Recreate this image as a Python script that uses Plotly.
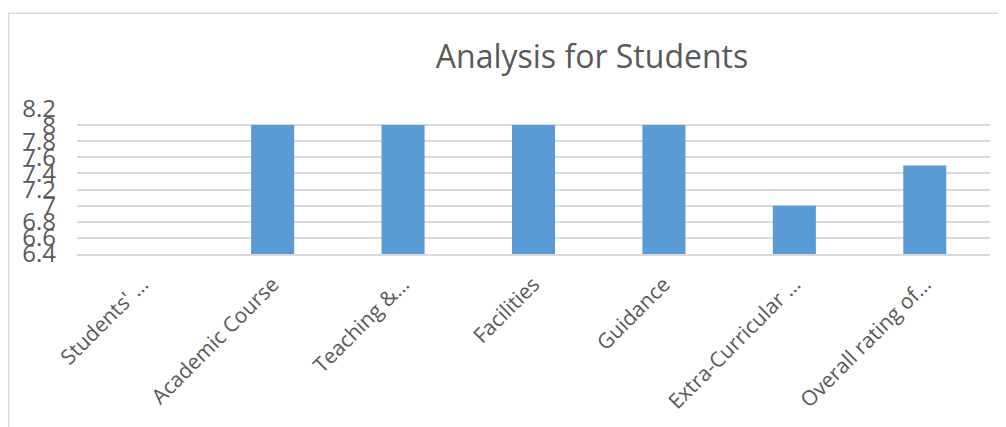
import plotly.graph_objects as go

categories = ["Students' …", "Academic Course", "Teaching &…", "Facilities",
              "Guidance", "Extra-Curricular …", "Overall rating of…"]
values = [6.4, 8, 8, 8, 8, 7, 7.5]
y_ticks = [6.4, 6.6, 6.8, 7, 7.2, 7.4, 7.6, 7.8, 8, 8.2]
y_tick_labels = ["6.4", "6.6", "6.8", "7", "7.2", "7.4", "7.6", "7.8", "8", "8.2"]

# page body has an 8px margin; figure coordinates = page coordinates - 8
OFF = 8
W, H = 1006 - OFF, 427 - OFF
L, T = 77 - OFF, 109 - OFF
R = W - (990 - OFF)
B = H - (258 - OFF)
ph = H - T - B
pw = W - L - R

def px_x(p):
    return (p - OFF - L) / pw

def px_y(p):
    return 1 - (p - OFF - T) / ph

fig = go.Figure(go.Bar(
    x=categories, y=values, marker=dict(color="#5B9BD5", line=dict(width=0)),
    width=0.33,
))

fig.update_layout(
    width=W, height=H,
    margin=dict(l=L, r=R, t=T, b=B),
    paper_bgcolor="white", plot_bgcolor="white",
    font=dict(family="Open Sans", color="#595959"),
    title=dict(text="Analysis for Students", x=(592 - OFF) / W, xanchor="center",
               y=1 - (57 - OFF) / H, yanchor="middle",
               font=dict(size=32, color="#595959", family="Open Sans")),
    showlegend=False,
    xaxis=dict(tickangle=-45, tickfont=dict(size=21, color="#595959"),
               showgrid=False, showline=True, linecolor="#D9D9D9", linewidth=1.5,
               ticks="", range=[-0.5, 6.5], ticklabelstandoff=8),
    yaxis=dict(range=[6.4, 8.2], tickvals=y_ticks, ticktext=y_tick_labels,
               tickfont=dict(size=24, color="#595959"),
               showgrid=True, gridcolor="#D9D9D9", gridwidth=1.5,
               zeroline=False, showline=False, ticks="", ticklabelstandoff=20),
    shapes=[
        dict(type="line", xref="paper", yref="paper",
             x0=px_x(OFF + 0.75), x1=px_x(OFF + 0.75), y0=px_y(10), y1=px_y(440),
             line=dict(color="#D9D9D9", width=1.5)),
        dict(type="line", xref="paper", yref="paper",
             x0=px_x(OFF), x1=px_x(1020), y0=px_y(10.5), y1=px_y(10.5),
             line=dict(color="#D9D9D9", width=1.5)),
    ],
)

fig.write_html("out.html")
